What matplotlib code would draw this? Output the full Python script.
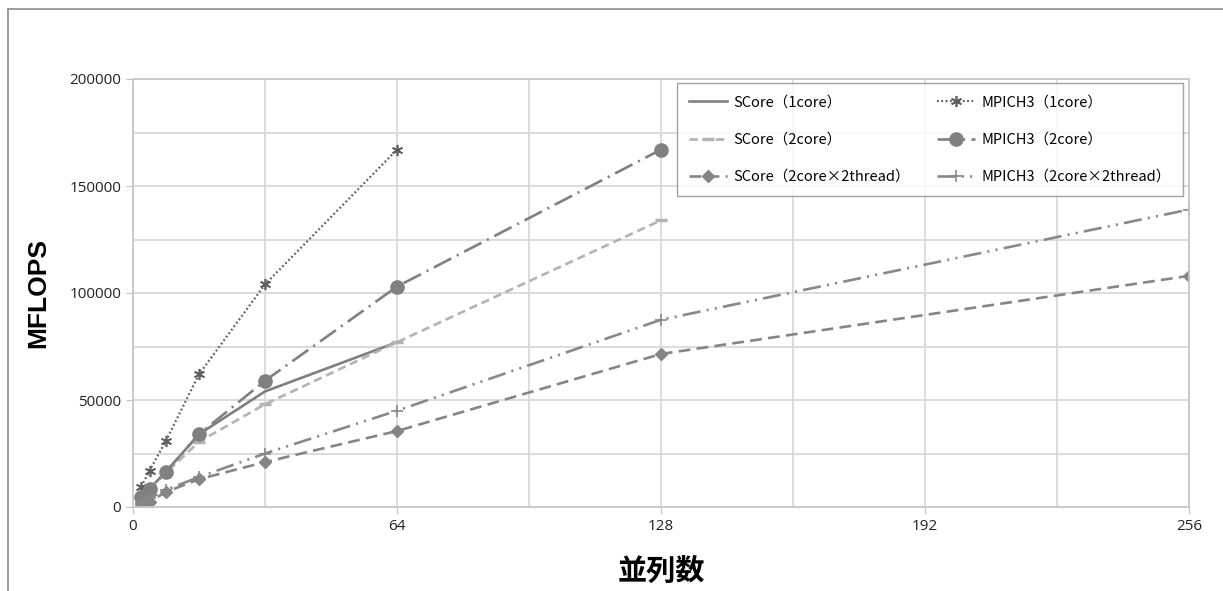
import numpy as np
import matplotlib
matplotlib.use("Agg")
import matplotlib.pyplot as plt
from matplotlib.lines import Line2D

plt.rcParams['font.family'] = ['Noto Sans CJK JP', 'DejaVu Sans']
plt.rcParams['lines.scale_dashes'] = False

# data
x_score1 = [2, 4, 8, 16, 32, 64]
score1 = [4500, 8500, 16500, 34000, 54000, 77000]

x_score2 = [2, 4, 8, 16, 32, 64, 128]
score2 = [4000, 8000, 16000, 30500, 48000, 77000, 134000]

x_score_thr = [2, 4, 8, 16, 32, 64, 128, 256]
score_thr = [1500, 2500, 7000, 13000, 21000, 35500, 71500, 108000]

x_mpich1 = [2, 4, 8, 16, 32, 64]
mpich1 = [9500, 17000, 31000, 62000, 104000, 167000]

x_mpich2 = [2, 4, 8, 16, 32, 64, 128]
mpich2 = [4500, 8500, 16500, 34000, 59000, 103000, 167000]

x_mpich_thr = [2, 4, 8, 16, 32, 64, 128, 256]
mpich_thr = [2000, 4000, 8000, 14000, 25000, 45000, 87500, 139000]

x_ticks = [0, 64, 128, 192, 256]
y_ticks = [0, 50000, 100000, 150000, 200000]

fig = plt.figure(figsize=(12.23, 5.91), dpi=100)
ax = fig.add_axes([133 / 1223, 1 - 507 / 591, (1189 - 133) / 1223, (507 - 79) / 591])

# outer frame (left and top edges visible)
fig.add_artist(Line2D([8 / 1223, 8 / 1223], [0, 1 - 9 / 591], color="#8c8c8c", lw=1.2))
fig.add_artist(Line2D([8 / 1223, 1], [1 - 9 / 591, 1 - 9 / 591], color="#8c8c8c", lw=1.2))

l1, = ax.plot(x_score1, score1, color="#7f7f7f", lw=1.9, label="SCore（1core）")
l2, = ax.plot(x_score2, score2, color="#b3b3b3", lw=1.9, dashes=(6, 3.5),
              marker="_", ms=9, mew=2.5, label="SCore（2core）")
l3, = ax.plot(x_score_thr, score_thr, color="#858585", lw=1.9, dashes=(8.5, 4.5),
              marker="D", ms=6, label="SCore（2core×2thread）")
l4, = ax.plot(x_mpich1, mpich1, color="#5f5f5f", lw=1.6, dashes=(1.3, 1.8),
              marker=(6, 2, 0), ms=8, mew=1.2, label="MPICH3（1core）")
l5, = ax.plot(x_mpich2, mpich2, color="#808080", lw=1.9, dashes=(14, 4.5, 1.5, 4.5),
              marker="o", ms=9.5, label="MPICH3（2core）")
l6, = ax.plot(x_mpich_thr, mpich_thr, color="#888888", lw=1.9,
              dashes=(13, 4.5, 1.5, 4.5, 1.5, 4.5),
              marker="+", ms=8, mew=1.2, label="MPICH3（2core×2thread）")

ax.set_xlim(0, 256)
ax.set_ylim(0, 200000)
ax.set_xticks(x_ticks)
ax.set_yticks(y_ticks)
ax.set_xticks(np.arange(0, 257, 32), minor=True)
ax.set_yticks(np.arange(0, 200001, 25000), minor=True)
ax.grid(True, which="both", color="#d9d9d9", lw=1.3)
ax.set_axisbelow(True)
ax.tick_params(which="minor", length=0)
ax.tick_params(which="major", length=5, color="#bfbfbf", labelsize=11, labelcolor="#222222")
for s in ax.spines.values():
    s.set_color("#c8c8c8")
    s.set_linewidth(1.3)
for lab in ax.get_xticklabels() + ax.get_yticklabels():
    lab.set_family(["Open Sans", "DejaVu Sans"])

ax.set_ylabel("MFLOPS", fontsize=19, fontweight="bold", family=["Liberation Sans", "DejaVu Sans"],
              labelpad=14)
ax.set_xlabel("並列数", fontsize=21, fontweight="bold", labelpad=16)

leg = ax.legend(handles=[l1, l2, l3, l4, l5, l6], ncol=2, loc="upper right",
                bbox_to_anchor=((1183 - 133) / (1189 - 133), 1 - 4 / 428), borderaxespad=0,
                fontsize=10.5, frameon=True, fancybox=False, edgecolor="#8c8c8c",
                handlelength=2.6, handletextpad=0.4, columnspacing=1.9,
                labelspacing=1.6, borderpad=0.85)
leg.get_frame().set_linewidth(1.0)

plt.savefig("out.png", dpi=100)
